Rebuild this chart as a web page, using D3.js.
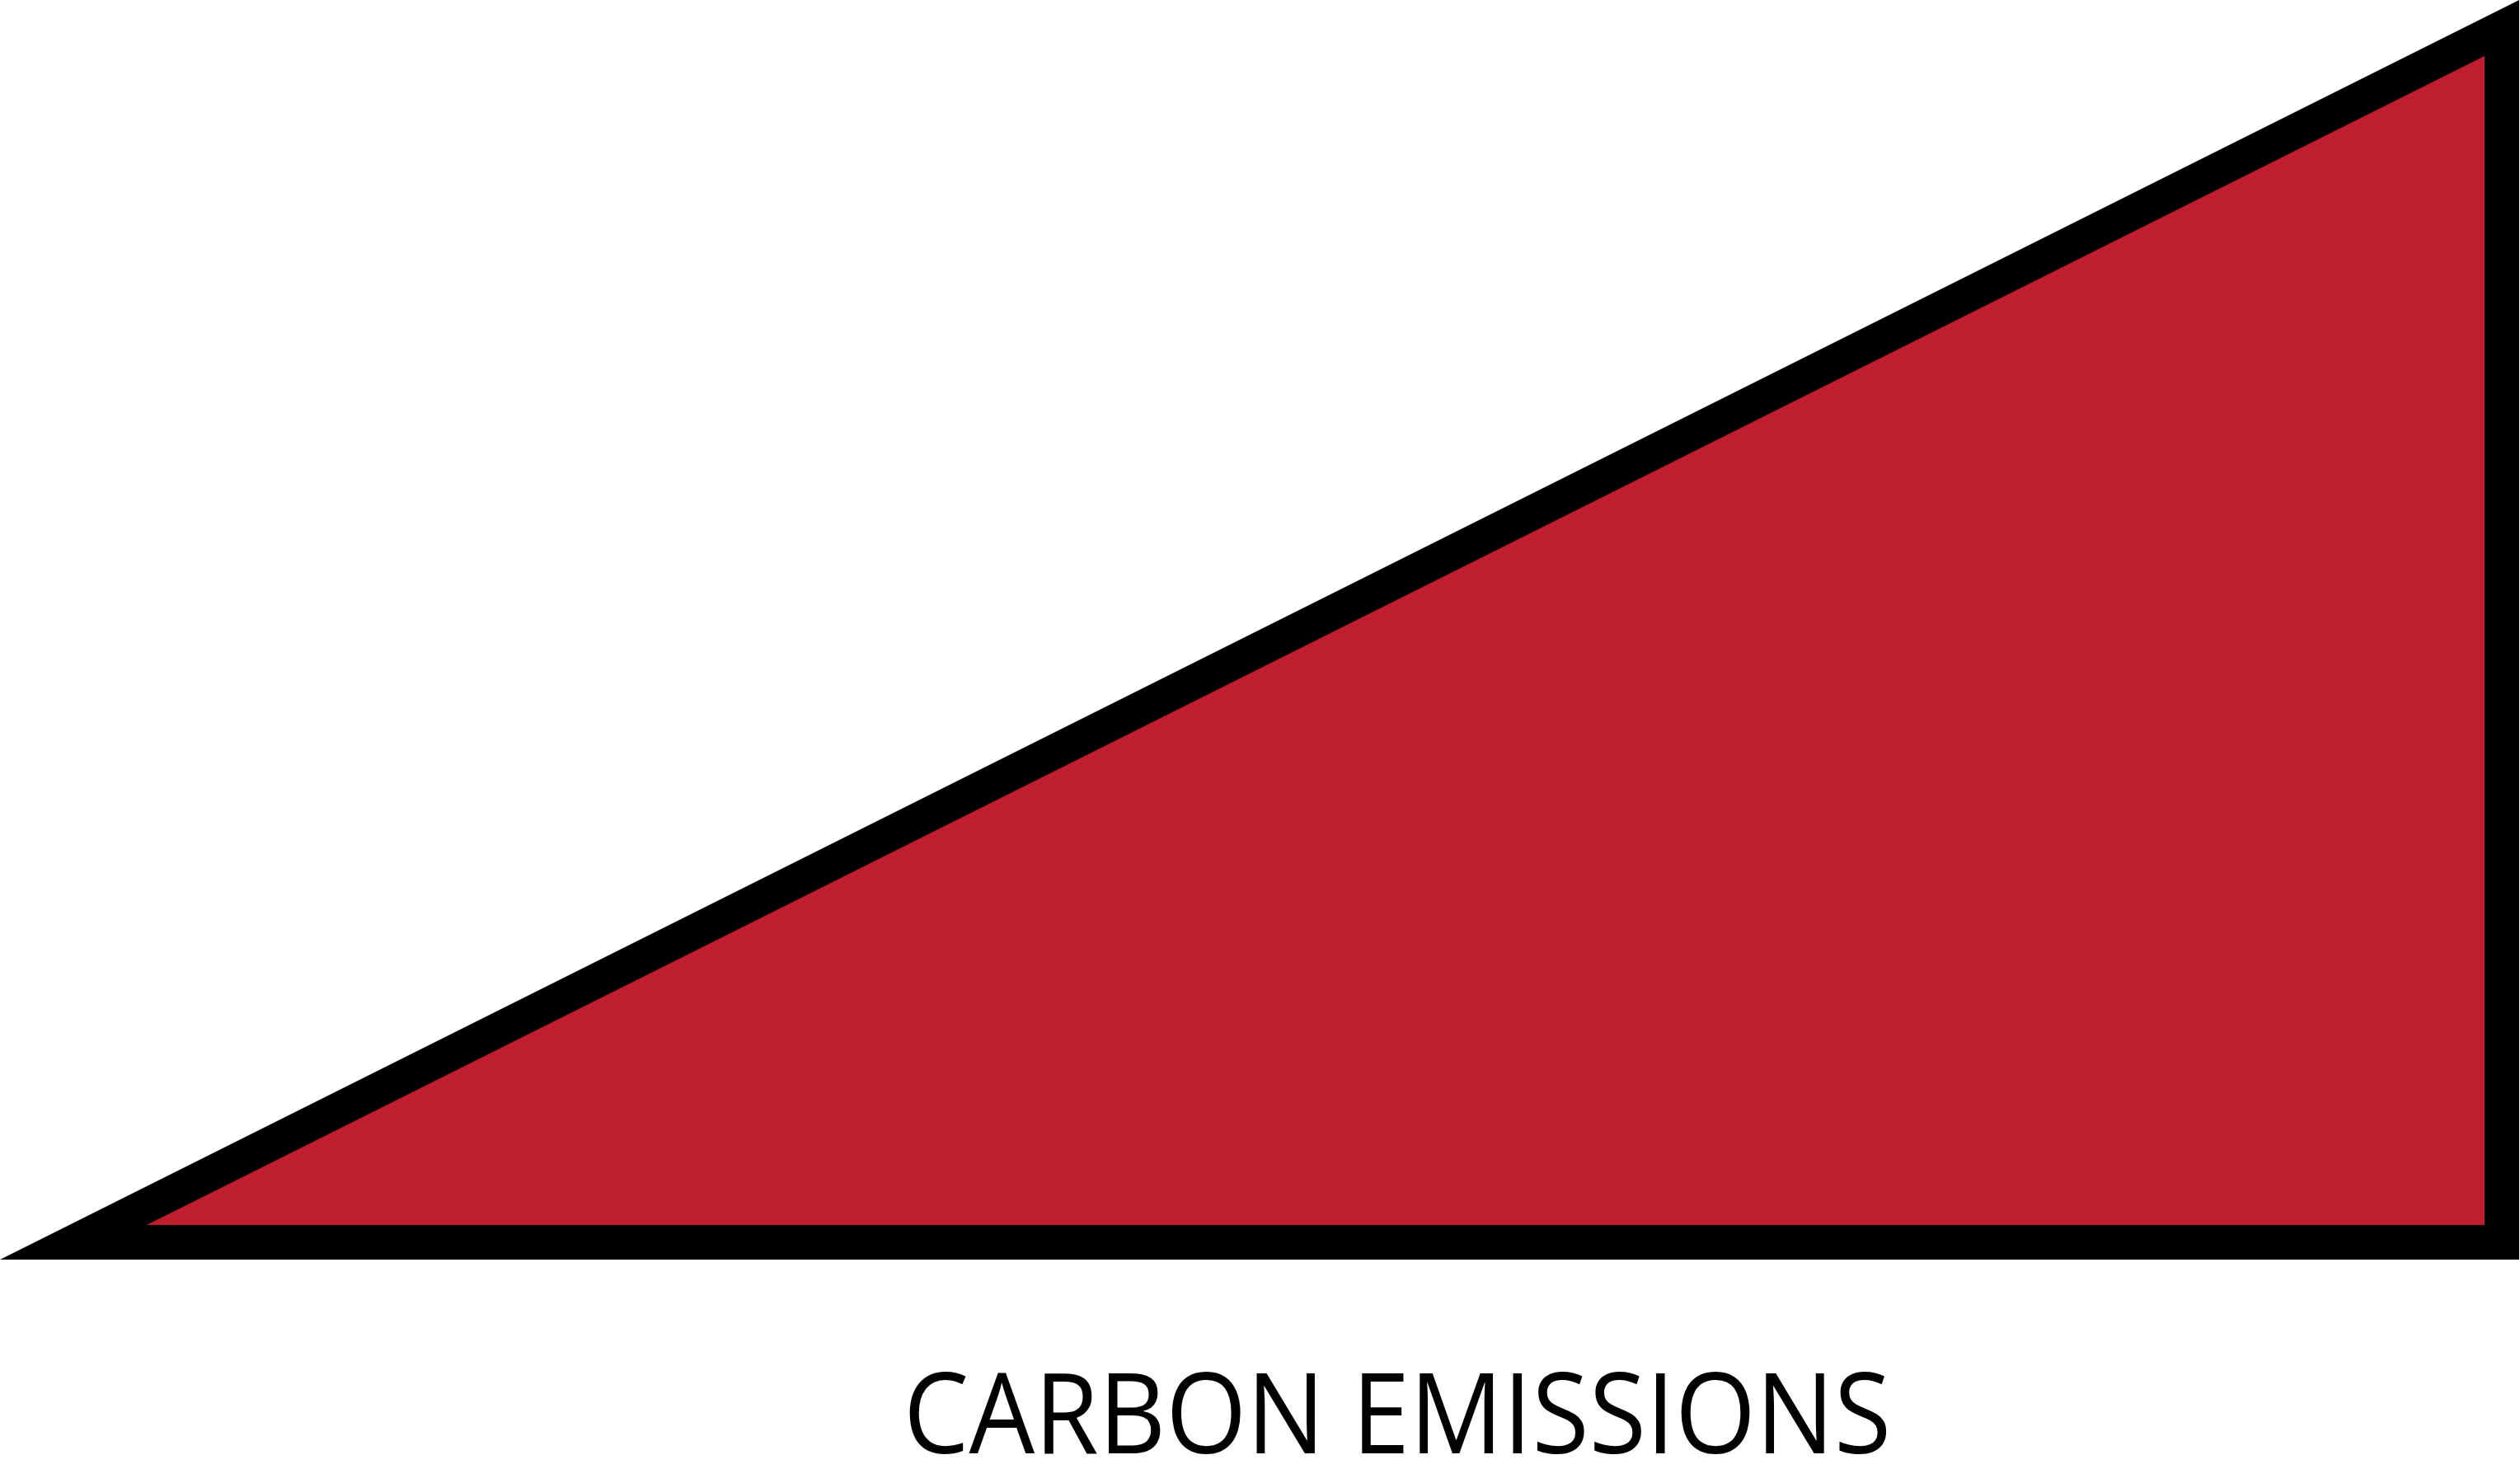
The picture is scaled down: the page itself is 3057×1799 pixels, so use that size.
<!DOCTYPE html>
<html>
<head>
<meta charset="utf-8">
<script src="https://cdn.jsdelivr.net/npm/d3@7"></script>
<style>
  html, body { margin: 0; padding: 0; background: #fff; }
  svg { display: block; }
</style>
</head>
<body>
<svg class="container"></svg>
<script>
// emissions grow linearly from nothing to their peak
const steps = [0, 1];
const emissions = [0, 1];
const title = "CARBON EMISSIONS";

const width = 3057, height = 1799;
const border = 42;

const svg = d3.select(".container")
  .attr("width", width)
  .attr("height", height);

// range is the centre line of the black outline
const xScale = d3.scaleLinear().domain(d3.extent(steps)).range([89, 3035]);
const yScale = d3.scaleLinear().domain([0, d3.max(emissions)]).range([1507, 34]);

const data = steps.map((s, i) => ({ step: s, value: emissions[i] }));

const area = d3.area()
  .x(d => xScale(d.step))
  .y0(yScale(0))
  .y1(d => yScale(d.value));

svg.append("path")
  .datum(data)
  .attr("d", area)
  .attr("fill", "#be1e2d")
  .attr("stroke", "#000")
  .attr("stroke-width", border)
  .attr("stroke-linejoin", "miter")
  .attr("stroke-miterlimit", 20);

svg.append("text")
  .attr("x", 1096)
  .attr("y", 1763)
  .attr("textLength", 1198)
  .attr("lengthAdjust", "spacingAndGlyphs")
  .style("font-family", "'Open Sans', sans-serif")
  .style("font-size", "136px")
  .style("fill", "#000")
  .text(title);
</script>
</body>
</html>
